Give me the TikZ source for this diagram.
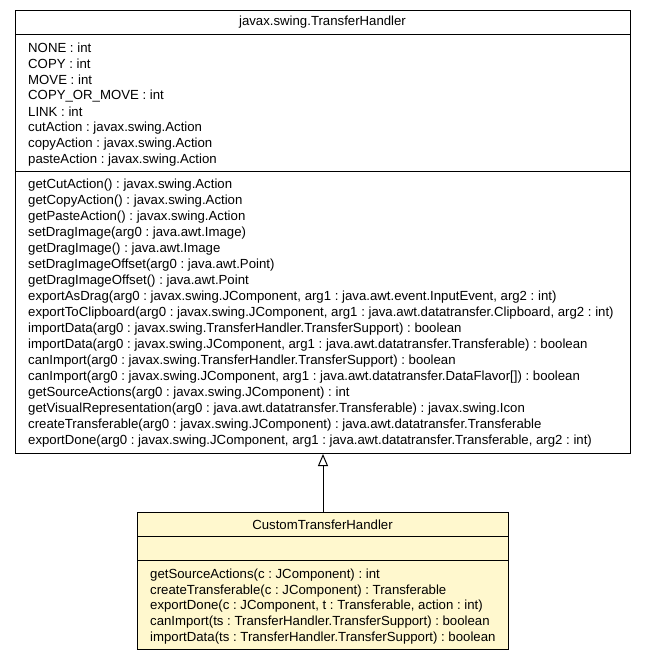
\documentclass[tikz,border=0pt]{standalone}
\usepackage{fontspec}
\setmainfont{Liberation Sans}
\usetikzlibrary{arrows.meta}
\frenchspacing
\definecolor{classfill}{RGB}{255,248,206}
\tikzset{
  umlbox/.style={draw=black, line width=1pt, inner sep=0pt, anchor=north west},
  member/.style={anchor=west, inner sep=0pt, font=\fontsize{13.2}{15}\selectfont},
  title/.style={anchor=center, inner sep=0pt, font=\fontsize{13.2}{15}\selectfont},
  sep/.style={line width=1pt},
  inherit/.style={line width=1pt, -{Triangle[open, width=10pt, length=12pt]}}
}
\begin{document}
\frenchspacing
\begin{tikzpicture}[x=1pt, y=-1pt]
\useasboundingbox (0,0) rectangle (645,661);
% superclass
\node[umlbox, fill=white, minimum width=615pt, minimum height=443pt] (super) at (15,10) {};
\draw[sep] (15,35) -- (630,35);
\draw[sep] (15,171) -- (630,171);
\node[title] (stitle) at (322.5,22.5) {javax.swing.TransferHandler};
\foreach \i/\t in {0/{NONE : int},1/{COPY : int},2/{MOVE : int},3/{COPY\_OR\_MOVE : int},4/{LINK : int},5/{cutAction : javax.swing.Action},6/{copyAction : javax.swing.Action},7/{pasteAction : javax.swing.Action}}
  \node[member] (sa\i) at (28,{48+16*\i}) {\t};
\foreach \i/\t in {
 0/{getCutAction() : javax.swing.Action},
 1/{getCopyAction() : javax.swing.Action},
 2/{getPasteAction() : javax.swing.Action},
 3/{setDragImage(arg0 : java.awt.Image)},
 4/{getDragImage() : java.awt.Image},
 5/{setDragImageOffset(arg0 : java.awt.Point)},
 6/{getDragImageOffset() : java.awt.Point},
 7/{exportAsDrag(arg0 : javax.swing.JComponent, arg1 : java.awt.event.InputEvent, arg2 : int)},
 8/{exportToClipboard(arg0 : javax.swing.JComponent, arg1 : java.awt.datatransfer.Clipboard, arg2 : int)},
 9/{importData(arg0 : javax.swing.TransferHandler.TransferSupport) : boolean},
 10/{importData(arg0 : javax.swing.JComponent, arg1 : java.awt.datatransfer.Transferable) : boolean},
 11/{canImport(arg0 : javax.swing.TransferHandler.TransferSupport) : boolean},
 12/{canImport(arg0 : javax.swing.JComponent, arg1 : java.awt.datatransfer.DataFlavor[]) : boolean},
 13/{getSourceActions(arg0 : javax.swing.JComponent) : int},
 14/{getVisualRepresentation(arg0 : java.awt.datatransfer.Transferable) : javax.swing.Icon},
 15/{createTransferable(arg0 : javax.swing.JComponent) : java.awt.datatransfer.Transferable},
 16/{exportDone(arg0 : javax.swing.JComponent, arg1 : java.awt.datatransfer.Transferable, arg2 : int)}}
  \node[member] (sm\i) at (28,{185+16*\i}) {\t};
% subclass
\node[umlbox, fill=classfill, minimum width=371pt, minimum height=137pt] (sub) at (137,512) {};
\draw[sep] (137,536.5) -- (508,536.5);
\draw[sep] (137,560.5) -- (508,560.5);
\node[title] (ctitle) at (322.5,524.5) {CustomTransferHandler};
\foreach \i/\t in {
 0/{getSourceActions(c : JComponent) : int},
 1/{createTransferable(c : JComponent) : Transferable},
 2/{exportDone(c : JComponent, t : Transferable, action : int)},
 3/{canImport(ts : TransferHandler.TransferSupport) : boolean},
 4/{importData(ts : TransferHandler.TransferSupport) : boolean}}
  \node[member] (cm\i) at (150,{575+15.7*\i}) {\t};
% generalization
\draw[inherit] (sub.north) -- (super.south);
\end{tikzpicture}
\end{document}
